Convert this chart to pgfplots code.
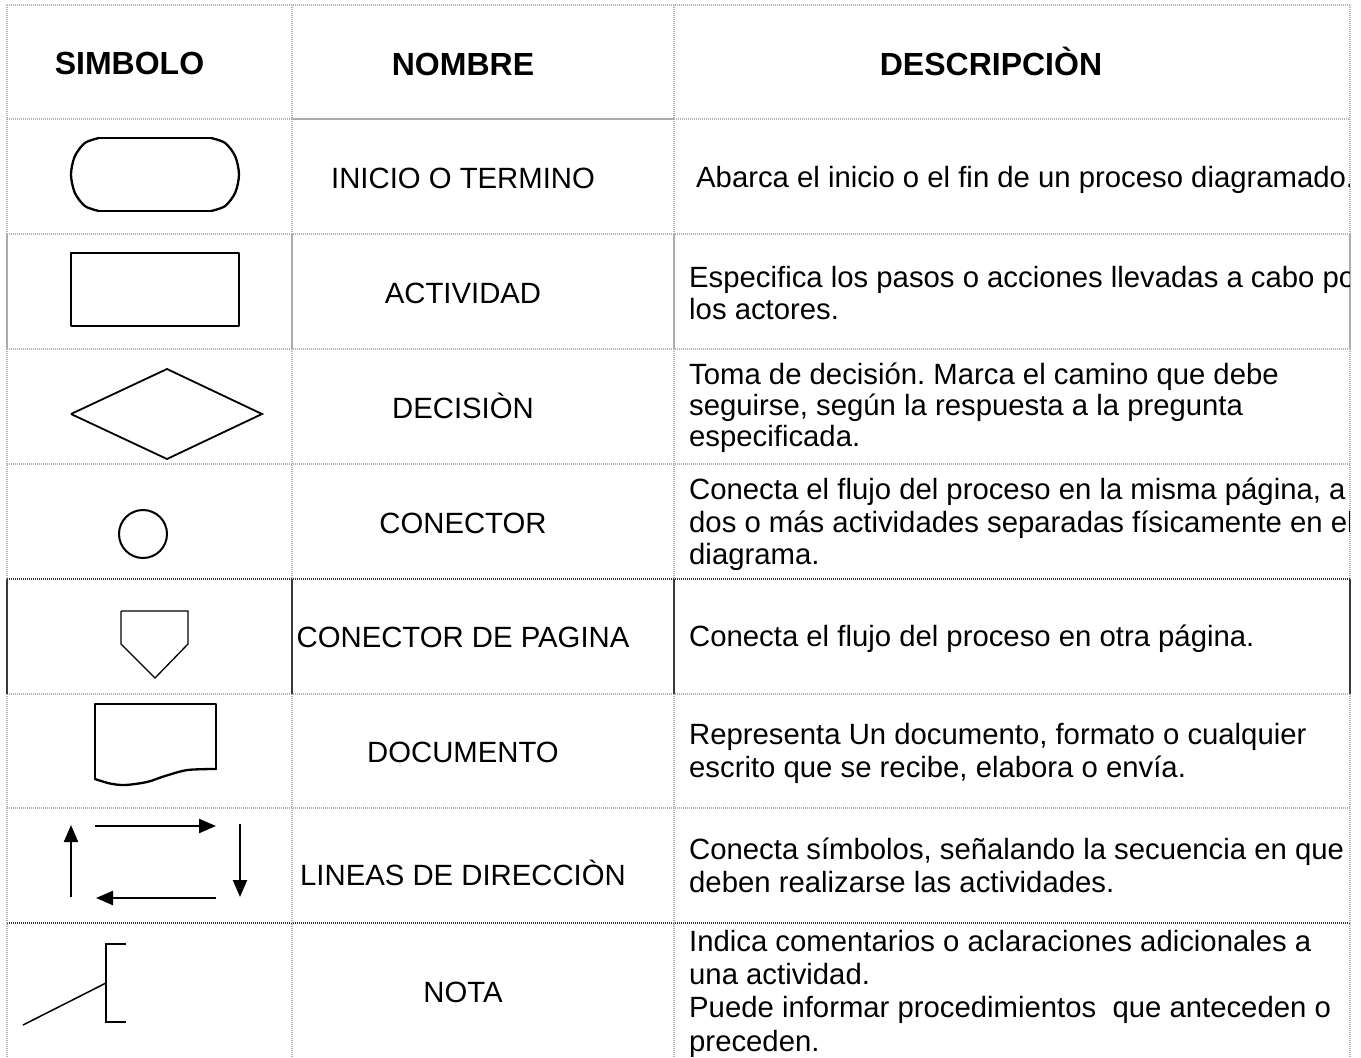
\documentclass[border=0pt]{standalone}
\usepackage{pgfplots}
\pgfplotsset{compat=1.18}
\usetikzlibrary{arrows.meta}
\usepackage{fontspec}
\setmainfont{Liberation Sans}
\frenchspacing
\begin{document}
\begin{tikzpicture}[
  gline/.style={gray!60, line width=1.5pt, dash pattern=on 1pt off 1pt},
  sline/.style={gray!65, line width=1.5pt},
  tline/.style={gray!45!black, line width=2.5pt},
  dline/.style={gray!40!black, line width=1.8pt, dash pattern=on 1pt off 1pt},
  shp/.style={black, line width=2.3pt, line join=round, line cap=round},
  thn/.style={black, line width=1.3pt, line join=miter},
  arr/.style={black, line width=2.3pt, -{Triangle[length=17pt,width=14pt]}},
]
\begin{axis}[scale only axis, width=1361pt, height=1057pt,
  xmin=0, xmax=1361, ymin=0, ymax=1057, y dir=reverse,
  hide axis, clip=false]
\coordinate (O) at (axis cs:0,0);
% ---------- grid ----------
% horizontals
\addplot[gline] coordinates {(7,5) (1350,5)};
\addplot[gline] coordinates {(7,119) (292,119)};
\addplot[sline] coordinates {(292,119) (674,119)};
\addplot[gline] coordinates {(674,119) (1350,119)};
\addplot[gline] coordinates {(7,234) (1350,234)};
\addplot[gline] coordinates {(7,349) (1350,349)};
\addplot[gline] coordinates {(7,464) (1350,464)};
\addplot[dline] coordinates {(7,579) (1350,579)};
\addplot[gline] coordinates {(7,694) (1350,694)};
\addplot[gline] coordinates {(7,808) (1350,808)};
\addplot[dline] coordinates {(7,923) (1350,923)};
% verticals
\addplot[gline] coordinates {(7,5) (7,234)};
\addplot[sline] coordinates {(7,234) (7,349)};
\addplot[gline] coordinates {(7,349) (7,579)};
\addplot[tline] coordinates {(7,579) (7,694)};
\addplot[gline] coordinates {(7,694) (7,1057)};
\addplot[gline] coordinates {(292,5) (292,234)};
\addplot[sline] coordinates {(292,234) (292,349)};
\addplot[gline] coordinates {(292,349) (292,579)};
\addplot[tline] coordinates {(292,579) (292,694)};
\addplot[gline] coordinates {(292,694) (292,1057)};
\addplot[gline] coordinates {(674,5) (674,234)};
\addplot[sline] coordinates {(674,234) (674,349)};
\addplot[gline] coordinates {(674,349) (674,579)};
\addplot[tline] coordinates {(674,579) (674,694)};
\addplot[gline] coordinates {(674,694) (674,1057)};
\addplot[gline] coordinates {(1350,5) (1350,234)};
\addplot[sline] coordinates {(1350,234) (1350,349)};
\addplot[gline] coordinates {(1350,349) (1350,579)};
\addplot[tline] coordinates {(1350,579) (1350,694)};
\addplot[gline] coordinates {(1350,694) (1350,1057)};
% ---------- symbols ----------
% terminator
\addplot[shp] coordinates {(99,138) (211,138)};
\addplot[shp] coordinates {(99,211) (211,211)};
\addplot[shp, smooth] coordinates {(99,138) (85,142.9) (74.8,156.25) (71,174.5) (74.8,192.75) (85,206.1) (99,211)};
\addplot[shp, smooth] coordinates {(211,138) (225,142.9) (235.2,156.25) (239,174.5) (235.2,192.75) (225,206.1) (211,211)};
% activity
\addplot[shp] coordinates {(71,253) (239,253) (239,326) (71,326) (71,253)};
% decision
\addplot[thn, line width=1.8pt] coordinates {(71,414) (167,369) (262,414) (167,459) (71,414)};
% connector
\addplot[only marks, mark=o, mark size=24pt, mark options={line width=2pt, black}] coordinates {(143,534)};
% off-page connector
\addplot[thn] coordinates {(121,611) (188,611) (188,644) (155,678) (121,644) (121,611)};
% document
\addplot[shp] coordinates {(95,779) (95,704) (216,704) (216,769)};
\addplot[shp, smooth] coordinates {(95,779) (110,783.5) (125,785) (147,782) (165,776) (187.5,770) (216,769)};
% direction lines
\addplot[arr] coordinates {(71,897) (71,825)};
\addplot[arr] coordinates {(95,826) (216,826)};
\addplot[arr] coordinates {(240,824) (240,897)};
\addplot[arr] coordinates {(216,898) (96,898)};
% note
\addplot[thn, line width=1.5pt] coordinates {(23,1025) (106,983)};
\addplot[thn, line width=1.5pt] coordinates {(126,944) (106,944) (106,1022) (126,1022)};
% ---------- header ----------
\node[anchor=base, inner sep=0pt, font=\fontsize{32}{34}\selectfont\bfseries] at (axis cs:129.5,74) {SIMBOLO};
\node[anchor=base, inner sep=0pt, font=\fontsize{32}{34}\selectfont\bfseries] at (axis cs:463,75) {NOMBRE};
\node[anchor=base, inner sep=0pt, font=\fontsize{32}{34}\selectfont\bfseries] at (axis cs:991,75) {DESCRIPCIÒN};
% ---------- names ----------
\node[anchor=base, inner sep=0pt, font=\fontsize{29.3}{31}\selectfont] at (axis cs:463,188) {INICIO O TERMINO};
\node[anchor=base, inner sep=0pt, font=\fontsize{29.3}{31}\selectfont] at (axis cs:463,303) {ACTIVIDAD};
\node[anchor=base, inner sep=0pt, font=\fontsize{29.3}{31}\selectfont] at (axis cs:463,418) {DECISIÒN};
\node[anchor=base, inner sep=0pt, font=\fontsize{29.3}{31}\selectfont] at (axis cs:463,533) {CONECTOR};
\node[anchor=base, inner sep=0pt, font=\fontsize{29.3}{31}\selectfont] at (axis cs:463,647) {CONECTOR DE PAGINA};
\node[anchor=base, inner sep=0pt, font=\fontsize{29.3}{31}\selectfont] at (axis cs:463,762) {DOCUMENTO};
\node[anchor=base, inner sep=0pt, font=\fontsize{29.3}{31}\selectfont] at (axis cs:463,885) {LINEAS DE DIRECCIÒN};
\node[anchor=base, inner sep=0pt, font=\fontsize{29.3}{31}\selectfont] at (axis cs:463,1002) {NOTA};
\end{axis}
% page = exactly the 1361 x 1057 area
\path (O) rectangle ([shift={(1361pt,-1057pt)}]O);
% ---------- descriptions (clipped at the right border) ----------
\begin{scope}
\clip ([shift={(674pt,0pt)}]O) rectangle ([shift={(1349pt,-1057pt)}]O);
\tikzset{d/.style={anchor=base west, inner sep=0pt, font=\fontsize{29.3}{31}\selectfont}}
\node[d] at ([shift={(696pt,-188pt)}]O) {Abarca el inicio o el fin de un proceso diagramado.};
\node[d] at ([shift={(689pt,-288pt)}]O) {Especifica los pasos o acciones llevadas a cabo por};
\node[d] at ([shift={(689pt,-320pt)}]O) {los actores.};
\node[d] at ([shift={(689pt,-385pt)}]O) {Toma de decisión. Marca el camino que debe};
\node[d] at ([shift={(689pt,-416pt)}]O) {seguirse, según la respuesta a la pregunta};
\node[d] at ([shift={(689pt,-447pt)}]O) {especificada.};
\node[d] at ([shift={(689pt,-500pt)}]O) {Conecta el flujo del proceso en la misma página, a};
\node[d] at ([shift={(689pt,-533pt)}]O) {dos o más actividades separadas físicamente en el};
\node[d] at ([shift={(689pt,-565pt)}]O) {diagrama.};
\node[d] at ([shift={(689pt,-647pt)}]O) {Conecta el flujo del proceso en otra página.};
\node[d] at ([shift={(689pt,-745pt)}]O) {Representa Un documento, formato o cualquier};
\node[d] at ([shift={(689pt,-778pt)}]O) {escrito que se recibe, elabora o envía.};
\node[d] at ([shift={(689pt,-860pt)}]O) {Conecta símbolos, señalando la secuencia en que};
\node[d] at ([shift={(689pt,-893pt)}]O) {deben realizarse las actividades.};
\node[d] at ([shift={(689pt,-952pt)}]O) {Indica comentarios o aclaraciones adicionales a};
\node[d] at ([shift={(689pt,-985pt)}]O) {una actividad.};
\node[d] at ([shift={(689pt,-1018pt)}]O) {Puede informar procedimientos\ \ que anteceden o};
\node[d] at ([shift={(689pt,-1052pt)}]O) {preceden.};
\end{scope}
\end{tikzpicture}
\end{document}
